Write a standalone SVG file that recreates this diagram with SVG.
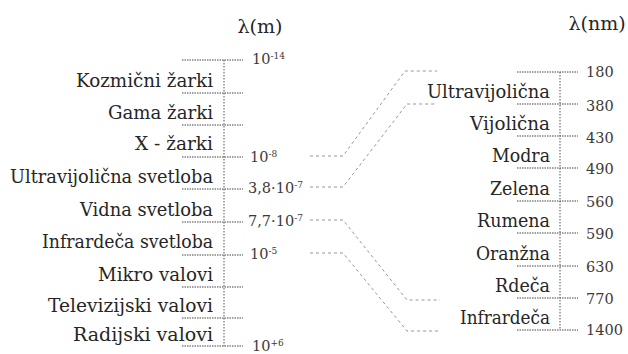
<svg xmlns="http://www.w3.org/2000/svg" width="628" height="354" viewBox="0 0 628 354">
<style>
text{font-family:'DejaVu Serif','Liberation Serif','Times New Roman',serif}
.lbl{font-size:18px;fill:#262626;text-anchor:end}
.ttl{font-size:19px;fill:#262626;text-anchor:middle}
.num{font-size:14.5px;fill:#3a3a3a}
.sup{font-size:9px}
.tick{stroke:#444;stroke-width:1;stroke-dasharray:1.5 1;fill:none}
.axis{stroke:#555;stroke-width:1;stroke-dasharray:1.5 1.5;fill:none}
.conn{stroke:#8a8a8a;stroke-width:0.9;stroke-dasharray:3 3;fill:none}
</style>
<rect width="628" height="354" fill="#fff"/>
<g id="left-scale">
<text class="ttl" x="260" y="33">λ(m)</text>
<line class="axis" x1="224" y1="60" x2="224" y2="346"/>
<line class="tick" x1="182" y1="60" x2="243" y2="60"/>
<line class="tick" x1="182" y1="93" x2="243" y2="93"/>
<line class="tick" x1="182" y1="125" x2="243" y2="125"/>
<line class="tick" x1="182" y1="157" x2="243" y2="157"/>
<line class="tick" x1="182" y1="189" x2="243" y2="189"/>
<line class="tick" x1="182" y1="222" x2="243" y2="222"/>
<line class="tick" x1="182" y1="255" x2="243" y2="255"/>
<line class="tick" x1="182" y1="287" x2="243" y2="287"/>
<line class="tick" x1="182" y1="318" x2="243" y2="318"/>
<line class="tick" x1="182" y1="346" x2="243" y2="346"/>
<text class="num" x="252" y="64">10<tspan class="sup" dy="-5">-14</tspan></text>
<text class="num" x="250" y="162">10<tspan class="sup" dy="-5">-8</tspan></text>
<text class="num" x="248" y="193">3,8·10<tspan class="sup" dy="-5">-7</tspan></text>
<text class="num" x="248" y="226">7,7·10<tspan class="sup" dy="-5">-7</tspan></text>
<text class="num" x="250" y="259">10<tspan class="sup" dy="-5">-5</tspan></text>
<text class="num" x="252" y="351">10<tspan class="sup" dy="-5">+6</tspan></text>
</g>
<g id="n-kozmicni"><text class="lbl" x="213" y="87" textLength="137" lengthAdjust="spacingAndGlyphs">Kozmični žarki</text></g>
<g id="n-gama"><text class="lbl" x="213" y="119" textLength="105" lengthAdjust="spacingAndGlyphs">Gama žarki</text></g>
<g id="n-x"><text class="lbl" x="213" y="150" textLength="78" lengthAdjust="spacingAndGlyphs">X - žarki</text></g>
<g id="n-uv"><text class="lbl" x="213" y="183" textLength="203" lengthAdjust="spacingAndGlyphs">Ultravijolična svetloba</text></g>
<g id="n-vidna"><text class="lbl" x="213" y="216" textLength="133" lengthAdjust="spacingAndGlyphs">Vidna svetloba</text></g>
<g id="n-ir"><text class="lbl" x="213" y="248" textLength="171" lengthAdjust="spacingAndGlyphs">Infrardeča svetloba</text></g>
<g id="n-mikro"><text class="lbl" x="213" y="281" textLength="115" lengthAdjust="spacingAndGlyphs">Mikro valovi</text></g>
<g id="n-tv"><text class="lbl" x="213" y="312" textLength="165" lengthAdjust="spacingAndGlyphs">Televizijski valovi</text></g>
<g id="n-radio"><text class="lbl" x="213" y="341" textLength="140" lengthAdjust="spacingAndGlyphs">Radijski valovi</text></g>
<g id="right-scale">
<text class="ttl" x="597" y="30">λ(nm)</text>
<line class="axis" x1="560" y1="72" x2="560" y2="330"/>
<line class="tick" x1="517" y1="72" x2="578" y2="72"/>
<line class="tick" x1="517" y1="104" x2="578" y2="104"/>
<line class="tick" x1="517" y1="136" x2="578" y2="136"/>
<line class="tick" x1="517" y1="168" x2="578" y2="168"/>
<line class="tick" x1="517" y1="201" x2="578" y2="201"/>
<line class="tick" x1="517" y1="233" x2="578" y2="233"/>
<line class="tick" x1="517" y1="266" x2="578" y2="266"/>
<line class="tick" x1="517" y1="298" x2="578" y2="298"/>
<line class="tick" x1="517" y1="330" x2="578" y2="330"/>
<text class="num" x="586" y="77">180</text>
<text class="num" x="586" y="111">380</text>
<text class="num" x="586" y="143">430</text>
<text class="num" x="586" y="174">490</text>
<text class="num" x="586" y="207">560</text>
<text class="num" x="586" y="239">590</text>
<text class="num" x="586" y="272">630</text>
<text class="num" x="586" y="304">770</text>
<text class="num" x="586" y="335">1400</text>
</g>
<g id="r-uv"><text class="lbl" x="550" y="98" textLength="123" lengthAdjust="spacingAndGlyphs">Ultravijolična</text></g>
<g id="r-vijolicna"><text class="lbl" x="550" y="130" textLength="80" lengthAdjust="spacingAndGlyphs">Vijolična</text></g>
<g id="r-modra"><text class="lbl" x="550" y="162" textLength="58" lengthAdjust="spacingAndGlyphs">Modra</text></g>
<g id="r-zelena"><text class="lbl" x="550" y="195" textLength="60" lengthAdjust="spacingAndGlyphs">Zelena</text></g>
<g id="r-rumena"><text class="lbl" x="550" y="227" textLength="73" lengthAdjust="spacingAndGlyphs">Rumena</text></g>
<g id="r-oranzna"><text class="lbl" x="550" y="260" textLength="74" lengthAdjust="spacingAndGlyphs">Oranžna</text></g>
<g id="r-rdeca"><text class="lbl" x="550" y="292" textLength="55" lengthAdjust="spacingAndGlyphs">Rdeča</text></g>
<g id="r-ir"><text class="lbl" x="550" y="324" textLength="90" lengthAdjust="spacingAndGlyphs">Infrardeča</text></g>
<g id="connectors">
<polyline class="conn" points="310,156 343,156 405,71 437,71"/>
<polyline class="conn" points="310,187 343,187 407,104 437,104"/>
<polyline class="conn" points="310,220 343,220 407,300 440,300"/>
<polyline class="conn" points="310,253 343,253 407,331 440,331"/>
</g>
</svg>
